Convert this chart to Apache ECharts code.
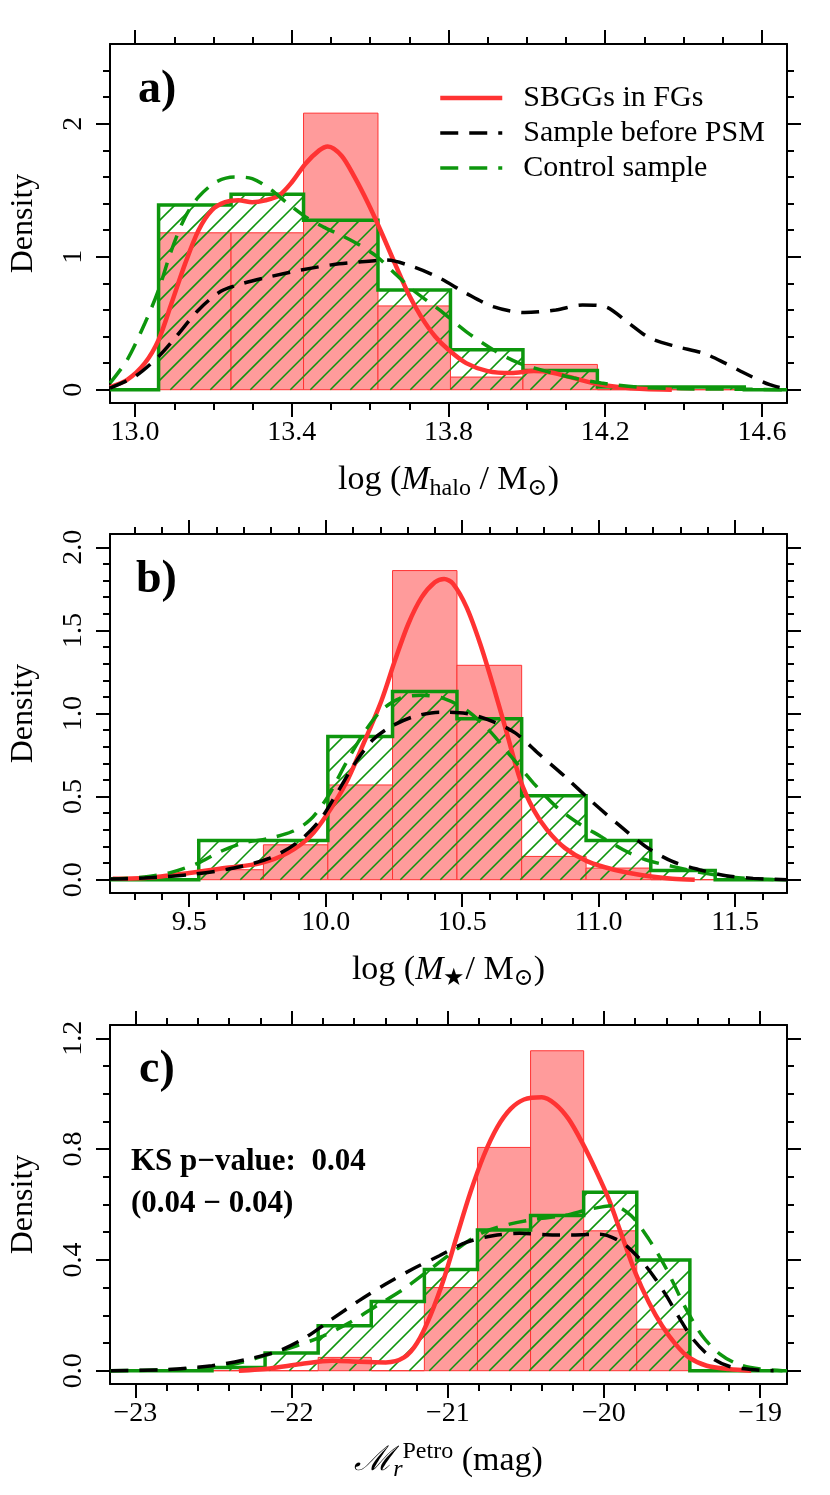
<!DOCTYPE html>
<html>
<head>
<meta charset="utf-8">
<script src="https://cdn.jsdelivr.net/npm/echarts@6/dist/echarts.min.js"></script>
<style>
html, body { margin: 0; padding: 0; background: #fff; }
#chart { width: 830px; height: 1495px; }
</style>
</head>
<body>
<div id="chart"></div>
<script>
// ---- panel a) log(M_halo) ----
var haloEdges = [13.06, 13.245, 13.43, 13.62, 13.805, 13.99, 14.18, 14.37, 14.555];
var haloSbgg = [1.18, 1.18, 2.08, 0.63, 0.095, 0.19, 0, 0];
var haloControl = [1.39, 1.47, 1.275, 0.75, 0.30, 0.145, 0.02, 0.02];
var haloKdeSbgg = [[12.936,0.02],[12.98,0.075],[13.025,0.2],[13.06,0.375],[13.093,0.65],[13.128,0.95],[13.162,1.2],[13.196,1.35],[13.23,1.41],[13.264,1.425],[13.299,1.41],[13.333,1.425],[13.367,1.46],[13.40,1.56],[13.435,1.70],[13.47,1.80],[13.492,1.83],[13.527,1.76],[13.56,1.60],[13.595,1.40],[13.63,1.175],[13.663,0.95],[13.697,0.725],[13.73,0.55],[13.766,0.40],[13.80,0.30],[13.845,0.2],[13.90,0.14],[13.96,0.125],[14.017,0.14],[14.062,0.13],[14.12,0.0875],[14.176,0.045],[14.233,0.02],[14.30,0.005],[14.37,0.0]];
var haloKdeBefore = [[12.936,0.0125],[13.0,0.10],[13.06,0.25],[13.105,0.40],[13.162,0.60],[13.219,0.74],[13.276,0.80],[13.344,0.85],[13.424,0.90],[13.504,0.94],[13.572,0.96],[13.64,0.975],[13.709,0.925],[13.777,0.84],[13.845,0.725],[13.914,0.625],[13.994,0.58],[14.074,0.60],[14.142,0.6375],[14.20,0.625],[14.256,0.51],[14.313,0.39],[14.381,0.325],[14.45,0.275],[14.506,0.2],[14.564,0.1125],[14.62,0.0375],[14.664,0.005]];
var haloKdeControl = [[12.936,0.05],[12.98,0.225],[13.025,0.5],[13.06,0.75],[13.093,1.05],[13.128,1.3],[13.162,1.45],[13.207,1.5625],[13.253,1.60],[13.299,1.5875],[13.344,1.51],[13.39,1.40],[13.435,1.30],[13.48,1.225],[13.527,1.16],[13.572,1.09],[13.618,1.0],[13.663,0.875],[13.709,0.75],[13.777,0.60],[13.845,0.4375],[13.914,0.30],[13.98,0.2],[14.05,0.1375],[14.12,0.0875],[14.19,0.05],[14.28,0.02],[14.393,0.0075],[14.506,0.005],[14.664,0.0]];
var haloXTicks = [13.0, 13.4, 13.8, 14.2, 14.6];
var haloYTicks = [0, 1, 2];

// ---- panel b) log(M_star) ----
var mstarEdges = [9.535, 9.772, 10.008, 10.245, 10.481, 10.718, 10.954, 11.191, 11.427];
var mstarSbgg = [0.06, 0.21, 0.57, 1.86, 1.29, 0.14, 0.07, 0];
var mstarControl = [0.236, 0.236, 0.862, 1.132, 0.968, 0.505, 0.236, 0.056];
var mstarKdeSbgg = [[9.22,0.005],[9.336,0.01],[9.5,0.04],[9.63,0.07],[9.762,0.10],[9.86,0.16],[9.943,0.26],[10.008,0.40],[10.074,0.58],[10.139,0.82],[10.205,1.08],[10.254,1.32],[10.303,1.54],[10.352,1.70],[10.40,1.79],[10.434,1.81],[10.467,1.78],[10.516,1.64],[10.566,1.42],[10.615,1.16],[10.664,0.88],[10.713,0.60],[10.762,0.42],[10.811,0.30],[10.877,0.19],[10.959,0.11],[11.057,0.06],[11.172,0.024],[11.27,0.006],[11.352,0.0]];
var mstarKdeBefore = [[9.21,0.004],[9.336,0.01],[9.5,0.03],[9.664,0.07],[9.795,0.13],[9.893,0.22],[9.975,0.35],[10.041,0.52],[10.107,0.70],[10.172,0.84],[10.238,0.92],[10.32,0.98],[10.418,1.008],[10.516,1.0],[10.615,0.95],[10.697,0.88],[10.779,0.76],[10.877,0.62],[10.975,0.47],[11.074,0.33],[11.172,0.20],[11.27,0.11],[11.369,0.06],[11.467,0.024],[11.566,0.008],[11.69,0.0]];
var mstarKdeControl = [[9.21,0.004],[9.336,0.016],[9.434,0.044],[9.533,0.10],[9.615,0.17],[9.697,0.22],[9.795,0.25],[9.877,0.29],[9.943,0.36],[10.008,0.50],[10.074,0.70],[10.139,0.88],[10.205,1.02],[10.27,1.09],[10.352,1.11],[10.434,1.09],[10.516,1.02],[10.598,0.90],[10.68,0.74],[10.762,0.58],[10.844,0.44],[10.926,0.34],[11.008,0.26],[11.09,0.18],[11.172,0.12],[11.27,0.08],[11.369,0.044],[11.467,0.02],[11.566,0.006],[11.68,0.0]];
var mstarXTicks = [9.5, 10.0, 10.5, 11.0, 11.5];
var mstarYTicks = [0.0, 0.5, 1.0, 1.5, 2.0];

// ---- panel c) M_r Petro ----
var magEdges = [-22.51, -22.17, -21.83, -21.49, -21.15, -20.81, -20.47, -20.13, -19.79, -19.45];
var magSbgg = [0, 0, 0.048, 0, 0.30, 0.806, 1.155, 0.505, 0.15];
var magControl = [0.012, 0.064, 0.162, 0.25, 0.365, 0.508, 0.56, 0.644, 0.40];
var magKdeSbgg = [[-22.338,0.0],[-22.14,0.008],[-21.94,0.024],[-21.74,0.036],[-21.568,0.032],[-21.397,0.03],[-21.28,0.048],[-21.197,0.10],[-21.111,0.20],[-21.026,0.33],[-20.94,0.49],[-20.855,0.644],[-20.77,0.776],[-20.683,0.879],[-20.598,0.945],[-20.512,0.979],[-20.398,0.987],[-20.313,0.963],[-20.227,0.909],[-20.141,0.825],[-20.056,0.728],[-19.97,0.62],[-19.885,0.487],[-19.80,0.355],[-19.713,0.247],[-19.628,0.162],[-19.542,0.096],[-19.457,0.048],[-19.342,0.018],[-19.2,0.006],[-19.057,0.0]];
var magKdeBefore = [[-23.16,0.0],[-22.795,0.004],[-22.51,0.018],[-22.28,0.042],[-22.08,0.072],[-21.91,0.12],[-21.74,0.187],[-21.568,0.253],[-21.397,0.313],[-21.225,0.367],[-21.054,0.415],[-20.883,0.463],[-20.712,0.487],[-20.54,0.496],[-20.37,0.491],[-20.198,0.49],[-20.027,0.493],[-19.885,0.463],[-19.77,0.403],[-19.685,0.343],[-19.6,0.27],[-19.514,0.187],[-19.43,0.114],[-19.314,0.048],[-19.2,0.016],[-19.057,0.004],[-18.914,0.0]];
var magKdeControl = [[-23.16,0.0],[-22.652,0.006],[-22.367,0.024],[-22.14,0.06],[-21.967,0.09],[-21.796,0.126],[-21.625,0.175],[-21.454,0.235],[-21.282,0.295],[-21.111,0.367],[-20.94,0.44],[-20.77,0.50],[-20.598,0.53],[-20.427,0.548],[-20.255,0.56],[-20.084,0.584],[-19.94,0.596],[-19.827,0.56],[-19.713,0.475],[-19.6,0.367],[-19.485,0.235],[-19.371,0.126],[-19.257,0.06],[-19.143,0.024],[-19.0,0.006],[-18.857,0.0]];
var magXTicks = [-23, -22, -21, -20, -19];
var magYTicks = [0.0, 0.4, 0.8, 1.2];

var FONT = '"Liberation Serif", "DejaVu Serif", serif';
var RED = '#ff3333';
var PINK = '#ff9b9b';
var GREEN = '#0d960d';
var HATCH = 20;

function seq(a, b, step) {
    var n = Math.round((b - a) / step), out = [];
    for (var i = 0; i <= n; i++) out.push(+(a + i * step).toFixed(4));
    return out;
}

function bins(edges, heights) {
    return heights.map(function (h, i) { return [edges[i], edges[i + 1], h]; });
}

// green outline drawn as one step line, flat at zero outside the bins
function stepLine(edges, heights, xmin, xmax) {
    var pts = [[xmin, 0], [edges[0], 0]];
    heights.forEach(function (h, i) {
        pts.push([edges[i], h]);
        pts.push([edges[i + 1], h]);
    });
    pts.push([edges[edges.length - 1], 0]);
    pts.push([xmax, 0]);
    return pts;
}

function renderBar(params, api) {
    var p0 = api.coord([api.value(0), api.value(2)]);
    var p1 = api.coord([api.value(1), 0]);
    return {
        type: 'rect',
        shape: { x: p0[0], y: p0[1], width: p1[0] - p0[0], height: p1[1] - p0[1] },
        style: { fill: PINK, stroke: RED, lineWidth: 1 }
    };
}

// 45 degree shading lines, aligned on one global pattern
function renderHatch(params, api) {
    var p0 = api.coord([api.value(0), api.value(2)]);
    var p1 = api.coord([api.value(1), 0]);
    var left = p0[0], top = p0[1], right = p1[0], bottom = p1[1];
    var kids = [];
    for (var c = Math.ceil((left + top) / HATCH) * HATCH; c <= right + bottom; c += HATCH) {
        var yLo = Math.max(top, c - right), yHi = Math.min(bottom, c - left);
        if (yHi - yLo > 0.5) {
            kids.push({
                type: 'line',
                shape: { x1: c - yHi, y1: yHi, x2: c - yLo, y2: yLo },
                style: { stroke: GREEN, lineWidth: 1.6 }
            });
        }
    }
    return { type: 'group', children: kids };
}

function tickAxis(g, position, min, max, ticks, len, showLine) {
    return {
        type: 'value', gridIndex: g, position: position, min: min, max: max,
        axisLine: { show: showLine, onZero: false, lineStyle: { color: '#000', width: 2 } },
        axisTick: { show: true, inside: false, length: len, customValues: ticks, lineStyle: { color: '#000', width: 2 } },
        axisLabel: { show: false },
        splitLine: { show: false }
    };
}

var panels = [
    {
        top: 44, xmin: 12.936, xmax: 14.664, ymin: -0.1, ymax: 2.6,
        xTicks: haloXTicks, xMinor: seq(13.0, 14.6, 0.1), yTicks: haloYTicks, yMinor: seq(0, 2.4, 0.2),
        xFmt: function (v) { return v.toFixed(1); }, yFmt: function (v) { return v.toFixed(0); },
        edges: haloEdges, sbgg: haloSbgg, control: haloControl,
        kde: [haloKdeSbgg, haloKdeBefore, haloKdeControl],
        xName: '{t|log (}{i|M}{s|halo}{t| / M}{s|⊙}{t|)}'
    },
    {
        top: 534, xmin: 9.21, xmax: 11.69, ymin: -0.08, ymax: 2.08,
        xTicks: mstarXTicks, xMinor: seq(9.3, 11.6, 0.1), yTicks: mstarYTicks, yMinor: seq(0, 2.0, 0.1),
        xFmt: function (v) { return v.toFixed(1); }, yFmt: function (v) { return v.toFixed(1); },
        edges: mstarEdges, sbgg: mstarSbgg, control: mstarControl,
        kde: [mstarKdeSbgg, mstarKdeBefore, mstarKdeControl],
        xName: '{t|log (}{i|M}{s|★}{t|/ M}{s|⊙}{t|)}'
    },
    {
        top: 1025, xmin: -23.163, xmax: -18.828, ymin: -0.048, ymax: 1.248,
        xTicks: magXTicks, xMinor: seq(-23, -19, 0.2), yTicks: magYTicks, yMinor: seq(0, 1.2, 0.1),
        xFmt: function (v) { return String(v).replace('-', '\u2212'); }, yFmt: function (v) { return v.toFixed(1); },
        edges: magEdges, sbgg: magSbgg, control: magControl,
        kde: [magKdeSbgg, magKdeBefore, magKdeControl],
        xName: '{m|ℳ}{r|r}{p|Petro}{t| (mag)}'
    }
];

var nameRich = {
    t: { fontFamily: FONT, fontSize: 34, color: '#000', lineHeight: 42 },
    i: { fontFamily: FONT, fontSize: 34, fontStyle: 'italic', color: '#000', lineHeight: 42 },
    s: { fontFamily: FONT, fontSize: 24, color: '#000', lineHeight: 24, verticalAlign: 'bottom' },
    m: { fontFamily: '"DejaVu Serif", serif', fontSize: 34, fontStyle: 'italic', color: '#000', lineHeight: 42 },
    r: { fontFamily: FONT, fontSize: 24, fontStyle: 'italic', color: '#000', lineHeight: 24, verticalAlign: 'bottom' },
    p: { fontFamily: FONT, fontSize: 24, color: '#000', lineHeight: 24, verticalAlign: 'top' }
};

var grids = [], xAxes = [], yAxes = [], series = [];
var names = ['SBGGs in FGs', 'Sample before PSM', 'Control sample'];
var kdeStyles = [
    { color: RED, width: 4.5, type: 'solid' },
    { color: '#000', width: 3.5, type: [18, 11] },
    { color: GREEN, width: 3.5, type: [18, 11] }
];

panels.forEach(function (p, g) {
    grids.push({ left: 109, top: p.top, width: 678, height: 359 });

    var xMain = tickAxis(g, 'bottom', p.xmin, p.xmax, p.xTicks, 14, true);
    xMain.axisLabel = {
        show: true, customValues: p.xTicks, formatter: p.xFmt, margin: 16,
        fontFamily: FONT, fontSize: 28, color: '#000'
    };
    xMain.name = p.xName;
    xMain.nameLocation = 'middle';
    xMain.nameGap = 56;
    xMain.nameTextStyle = { rich: nameRich };
    xAxes.push(xMain,
        tickAxis(g, 'bottom', p.xmin, p.xmax, p.xMinor, 7, false),
        tickAxis(g, 'top', p.xmin, p.xmax, p.xTicks, 14, true),
        tickAxis(g, 'top', p.xmin, p.xmax, p.xMinor, 7, false));

    var yMain = tickAxis(g, 'left', p.ymin, p.ymax, p.yTicks, 14, true);
    yMain.axisLabel = {
        show: true, customValues: p.yTicks, formatter: p.yFmt, margin: 22, rotate: 90,
        fontFamily: FONT, fontSize: 28, color: '#000'
    };
    yMain.name = 'Density';
    yMain.nameLocation = 'middle';
    yMain.nameGap = 70;
    yMain.nameTextStyle = { fontFamily: FONT, fontSize: 32, color: '#000' };
    yAxes.push(yMain,
        tickAxis(g, 'left', p.ymin, p.ymax, p.yMinor, 7, false),
        tickAxis(g, 'right', p.ymin, p.ymax, p.yTicks, 14, true),
        tickAxis(g, 'right', p.ymin, p.ymax, p.yMinor, 7, false));

    var xi = g * 4, yi = g * 4;
    series.push({
        type: 'custom', name: 'sbgg hist ' + g, xAxisIndex: xi, yAxisIndex: yi,
        renderItem: renderBar, encode: { x: [0, 1], y: 2 }, data: bins(p.edges, p.sbgg), clip: true, silent: true
    });
    series.push({
        type: 'custom', name: 'control hatch ' + g, xAxisIndex: xi, yAxisIndex: yi,
        renderItem: renderHatch, encode: { x: [0, 1], y: 2 }, data: bins(p.edges, p.control), clip: true, silent: true
    });
    series.push({
        type: 'line', name: 'control hist ' + g, xAxisIndex: xi, yAxisIndex: yi,
        data: stepLine(p.edges, p.control, p.xmin, p.xmax), symbol: 'none',
        lineStyle: { color: GREEN, width: 3.5, join: 'miter' }, silent: true
    });
    [0, 2, 1].forEach(function (k) {
        series.push({
            type: 'line', name: names[k], xAxisIndex: xi, yAxisIndex: yi,
            data: p.kde[k], smooth: 0.3, symbol: 'none', showSymbol: false,
            itemStyle: { color: kdeStyles[k].color },
            lineStyle: kdeStyles[k], silent: true
        });
    });
});

var chart = echarts.init(document.getElementById('chart'), null, { renderer: 'canvas' });
chart.setOption({
    backgroundColor: '#fff',
    animation: false,
    grid: grids,
    xAxis: xAxes,
    yAxis: yAxes,
    legend: {
        data: names, orient: 'vertical', left: 433, top: 78,
        itemWidth: 62, itemHeight: 14, itemGap: 5, selectedMode: false,
        itemStyle: { opacity: 0 },
        lineStyle: { width: 'inherit', type: 'inherit' },
        textStyle: { fontFamily: FONT, fontSize: 30, color: '#000', padding: [0, 0, 0, 16] }
    },
    graphic: [
        { type: 'text', x: 138, y: 90, style: { text: 'a)', font: 'bold 46px ' + FONT, fill: '#000', verticalAlign: 'middle' } },
        { type: 'text', x: 136, y: 580, style: { text: 'b)', font: 'bold 46px ' + FONT, fill: '#000', verticalAlign: 'middle' } },
        { type: 'text', x: 139, y: 1070, style: { text: 'c)', font: 'bold 46px ' + FONT, fill: '#000', verticalAlign: 'middle' } },
        { type: 'text', x: 131, y: 1162, style: { text: 'KS p\u2212value:  0.04', font: 'bold 31px ' + FONT, fill: '#000', verticalAlign: 'middle' } },
        { type: 'text', x: 131, y: 1204, style: { text: '(0.04 \u2212 0.04)', font: 'bold 31px ' + FONT, fill: '#000', verticalAlign: 'middle' } }
    ],
    series: series
});
</script>
</body>
</html>
